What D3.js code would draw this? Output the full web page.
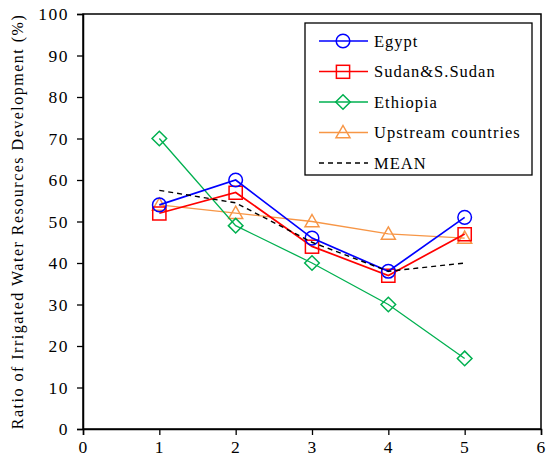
<!DOCTYPE html>
<html>
<head>
<meta charset="utf-8">
<script src="https://cdn.jsdelivr.net/npm/d3@7"></script>
<style>
  html, body { margin: 0; padding: 0; background: #fff; }
</style>
</head>
<body>
<svg id="chart" width="547" height="463"></svg>
<script>
// Ratio of irrigated water resources development (%) by scenario
const xValues = [1, 2, 3, 4, 5];
const egypt = [54, 60, 46, 38, 51];
const sudan = [52, 57, 44, 37, 47];
const ethiopia = [70, 49, 40, 30, 17];
const upstream = [54, 52, 50, 47, 46];
const mean = [57.5, 54.5, 45, 38, 40];

const seriesNames = ["Egypt", "Sudan&S.Sudan", "Ethiopia", "Upstream countries", "MEAN"];
const xTicks = [0, 1, 2, 3, 4, 5, 6];
const yTicks = [0, 10, 20, 30, 40, 50, 60, 70, 80, 90, 100];
const yTitle = "Ratio of Irrigated Water Resources Development (%)";

const FONT = "Liberation Serif";

const series = [
  { name: seriesNames[0], values: egypt, color: "#0000ff", marker: "circle", width: 1.7 },
  { name: seriesNames[1], values: sudan, color: "#ff0000", marker: "square", width: 1.7 },
  { name: seriesNames[2], values: ethiopia, color: "#00b050", marker: "diamond", width: 1.3 },
  { name: seriesNames[3], values: upstream, color: "#f79646", marker: "triangle", width: 1.3 },
  { name: seriesNames[4], values: mean, color: "#000000", marker: null, width: 1.4, dash: "5,4" }
];

const svg = d3.select("#chart");
const m = { left: 83, right: 6, top: 14, bottom: 34 };
const W = 547, H = 463;

const x = d3.scaleLinear().domain([0, 6]).range([m.left, W - m.right]);
const y = d3.scaleLinear().domain([0, 100]).range([H - m.bottom, m.top]);

// Plot frame
svg.append("rect")
  .attr("x", x(0)).attr("y", y(100))
  .attr("width", x(6) - x(0)).attr("height", y(0) - y(100))
  .attr("fill", "none").attr("stroke", "#000").attr("stroke-width", 1.5);

// Axes
const xAxis = svg.append("g")
  .attr("transform", `translate(0,${y(0)})`)
  .call(d3.axisBottom(x).tickValues(xTicks).tickSize(6).tickPadding(6).tickFormat(d3.format("d")));
const yAxis = svg.append("g")
  .attr("transform", `translate(${x(0)},0)`)
  .call(d3.axisLeft(y).tickValues(yTicks).tickSize(6).tickPadding(8).tickFormat(d3.format("d")));

[xAxis, yAxis].forEach(g => {
  g.attr("font-family", FONT).attr("font-size", 17);
  g.select(".domain").attr("stroke", "#000").attr("stroke-width", 1.5);
  g.selectAll(".tick line").attr("stroke", "#000").attr("stroke-width", 1.3);
  g.selectAll(".tick text")
    .attr("fill", "#000")
    .attr("font-family", FONT)
    .attr("font-size", 17.5)
    .attr("letter-spacing", 1.5);
});

// Y axis title
svg.append("text")
  .attr("transform", `translate(23,${(y(0) + y(100)) / 2}) rotate(-90)`)
  .attr("text-anchor", "middle")
  .attr("font-family", FONT)
  .attr("font-size", 16)
  .attr("letter-spacing", 1.5)
  .text(yTitle);

// Marker shapes
function drawMarker(g, type, cx, cy, color) {
  if (type === "circle") {
    g.append("circle").attr("cx", cx).attr("cy", cy).attr("r", 6.8)
      .attr("fill", "none").attr("stroke", color).attr("stroke-width", 1.5);
  } else if (type === "square") {
    g.append("rect").attr("x", cx - 6.6).attr("y", cy - 6.2).attr("width", 13.2).attr("height", 13)
      .attr("fill", "none").attr("stroke", color).attr("stroke-width", 1.5);
  } else if (type === "diamond") {
    const s = 7.3;
    g.append("path")
      .attr("d", `M${cx},${cy - s}L${cx + s},${cy}L${cx},${cy + s}L${cx - s},${cy}Z`)
      .attr("fill", "none").attr("stroke", color).attr("stroke-width", 1.5);
  } else if (type === "triangle") {
    const s = 7;
    g.append("path")
      .attr("d", `M${cx},${cy - s}L${cx + s},${cy + s * 0.75}L${cx - s},${cy + s * 0.75}Z`)
      .attr("fill", "none").attr("stroke", color).attr("stroke-width", 1.5);
  }
}

const line = d3.line().x(d => x(d[0])).y(d => y(d[1]));

// Draw series (upstream/ethiopia first, mean last)
const drawOrder = [3, 2, 1, 0, 4];
drawOrder.forEach(i => {
  const s = series[i];
  const pts = xValues.map((xv, j) => [xv, s.values[j]]);
  const g = svg.append("g");
  g.append("path").attr("d", line(pts))
    .attr("fill", "none").attr("stroke", s.color).attr("stroke-width", s.width)
    .attr("stroke-dasharray", s.dash || null);
  if (s.marker) pts.forEach(p => drawMarker(g, s.marker, x(p[0]), y(p[1]), s.color));
});

// Legend
const lg = svg.append("g");
lg.append("rect").attr("x", 305).attr("y", 23).attr("width", 227).attr("height", 152)
  .attr("fill", "#fff").attr("stroke", "#000").attr("stroke-width", 1.3);
series.forEach((s, i) => {
  const ly = 41 + i * 30.5;
  lg.append("line").attr("x1", 319).attr("x2", 368).attr("y1", ly).attr("y2", ly)
    .attr("stroke", s.color).attr("stroke-width", s.width)
    .attr("stroke-dasharray", s.dash || null);
  if (s.marker) drawMarker(lg, s.marker, 343, ly, s.color);
  lg.append("text").attr("x", 374).attr("y", ly).attr("dy", "0.35em")
    .attr("font-family", FONT)
    .attr("font-size", 16.5)
    .attr("letter-spacing", 1)
    .text(s.name);
});
</script>
</body>
</html>
